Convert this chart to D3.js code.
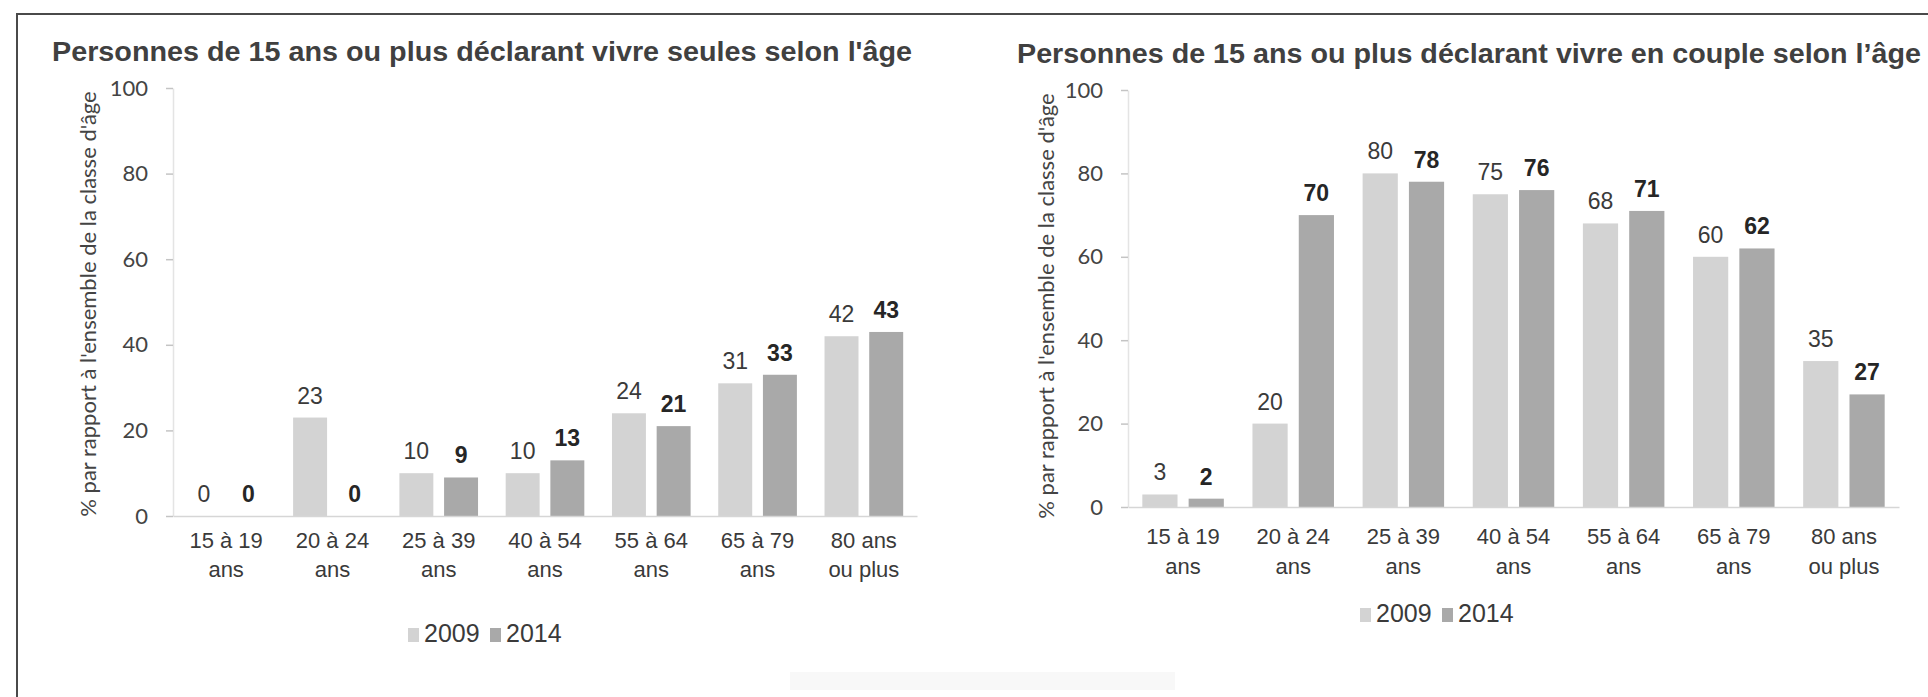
<!DOCTYPE html>
<html>
<head>
<meta charset="utf-8">
<script src="https://cdn.jsdelivr.net/npm/d3@7"></script>
<style>
  body { margin: 0; background: #fff; }
</style>
</head>
<body>
<div id="chart"></div>
<script>
// age classes (two lines per tick label)
const ageGroups = [
    ["15 à 19", "ans"], ["20 à 24", "ans"], ["25 à 39", "ans"], ["40 à 54", "ans"],
    ["55 à 64", "ans"], ["65 à 79", "ans"], ["80 ans", "ou plus"]
];
const years = ["2009", "2014"];

// vivre seules
const seules2009 = [0, 23, 10, 10, 24, 31, 42];
const seules2014 = [0, 0, 9, 13, 21, 33, 43];

// vivre en couple
const couple2009 = [3, 20, 80, 75, 68, 60, 35];
const couple2014 = [2, 70, 78, 76, 71, 62, 27];

const yTicks = [0, 20, 40, 60, 80, 100];
const barColors = ["#d3d3d3", "#a9a9a9"];

const W = 1928, H = 697;
const svg = d3.select("#chart").append("svg")
    .attr("width", W)
    .attr("height", H);

// scanned frame: left and top edges only
svg.append("path")
    .attr("d", `M17,${H} V14 H${W}`)
    .attr("fill", "none")
    .attr("stroke", "#4a4a4a")
    .attr("stroke-width", 2);

function drawChart(o) {
    const keys = ageGroups.map(d => d.join(" "));
    const rows = ageGroups.map((g, i) => ({ key: keys[i], lines: g, values: [o.v2009[i], o.v2014[i]] }));

    const x0 = d3.scaleBand().domain(keys).range([o.left, o.right]);
    const bw = x0.bandwidth();
    const x1 = d3.scaleBand().domain(years).range([bw * 0.13, bw * 0.87]).paddingInner(0.24);
    const y = d3.scaleLinear().domain([0, 100]).range([o.bottom, o.top]);

    // title
    svg.append("text")
        .attr("x", o.titleX)
        .attr("y", o.titleY)
        .attr("textLength", o.titleW)
        .attr("lengthAdjust", "spacingAndGlyphs")
        .text(o.title)
        .attr("font-family", "'Liberation Sans', Arial, sans-serif")
        .attr("font-size", "27px")
        .attr("font-weight", "bold")
        .attr("fill", "#404040");

    // y axis
    const yAxis = svg.append("g")
        .attr("transform", `translate(${o.left},0)`)
        .call(d3.axisLeft(y).tickValues(yTicks).tickSize(7).tickSizeOuter(0).tickPadding(18));
    yAxis.select(".domain").attr("stroke", "#e4e4e4").attr("stroke-width", 1.5);
    yAxis.selectAll(".tick line").attr("stroke", "#c4c4c4").attr("stroke-width", 1.5);
    yAxis.selectAll(".tick text")
        .attr("font-family", "Lato, 'Open Sans', sans-serif")
        .attr("font-size", "22px")
        .attr("fill", "#444");

    svg.append("text")
        .attr("transform", `translate(${o.yTitleX},${o.yTitleCy}) rotate(-90)`)
        .attr("text-anchor", "middle")
        .text("% par rapport à l'ensemble de la classe d'âge")
        .attr("font-family", "Lato, 'Open Sans', sans-serif")
        .attr("font-size", "22px")
        .attr("fill", "#444");

    // bars
    const groups = svg.selectAll(null)
        .data(rows)
        .enter()
        .append("g")
        .attr("transform", d => `translate(${x0(d.key)},0)`);

    groups.selectAll("rect")
        .data(d => d.values.map((v, i) => ({ year: years[i], v, i })))
        .enter()
        .append("rect")
        .attr("x", d => x1(d.year))
        .attr("y", d => y(d.v))
        .attr("width", x1.bandwidth())
        .attr("height", d => y(0) - y(d.v))
        .attr("fill", d => barColors[d.i]);

    groups.selectAll("text")
        .data(d => d.values.map((v, i) => ({ year: years[i], v, i })))
        .enter()
        .append("text")
        .attr("x", d => x1(d.year) + x1.bandwidth() / 2)
        .attr("y", d => y(d.v) - 14)
        .attr("text-anchor", "middle")
        .text(d => d.v)
        .attr("font-family", "'Liberation Sans', Arial, sans-serif")
        .attr("font-size", "23px")
        .attr("font-weight", d => d.i === 1 ? "bold" : "normal")
        .attr("fill", d => d.i === 1 ? "#262626" : "#3a3a3a");

    // x axis
    const xAxis = svg.append("g")
        .attr("transform", `translate(0,${o.bottom})`)
        .call(d3.axisBottom(x0).tickSize(0).tickFormat(""));
    xAxis.select(".domain").attr("stroke", "#d6d6d6").attr("stroke-width", 1.5);

    const xl = svg.selectAll(null)
        .data(rows)
        .enter()
        .append("text")
        .attr("text-anchor", "middle")
        .attr("font-family", "'Liberation Sans', Arial, sans-serif")
        .attr("font-size", "22px")
        .attr("fill", "#3a3a3a");
    xl.append("tspan")
        .attr("x", d => x0(d.key) + bw / 2)
        .attr("y", o.bottom + o.lab1)
        .text(d => d.lines[0]);
    xl.append("tspan")
        .attr("x", d => x0(d.key) + bw / 2)
        .attr("y", o.bottom + o.lab2)
        .text(d => d.lines[1]);

    // legend
    const legend = svg.append("g")
        .attr("transform", `translate(${o.legendX},${o.legendY})`);
    years.forEach((yr, i) => {
        legend.append("rect")
            .attr("x", i * 82)
            .attr("y", -14)
            .attr("width", 11)
            .attr("height", 14)
            .attr("fill", barColors[i]);
        legend.append("text")
            .attr("x", i * 82 + 16)
            .attr("y", 0)
            .text(yr)
            .attr("font-family", "'Liberation Sans', Arial, sans-serif")
            .attr("font-size", "25px")
            .attr("fill", "#3a3a3a");
    });
}

drawChart({
    title: "Personnes de 15 ans ou plus déclarant vivre seules selon l'âge",
    v2009: seules2009, v2014: seules2014,
    left: 173, right: 917, top: 88, bottom: 516,
    titleX: 52, titleY: 61, titleW: 860,
    yTitleX: 96, yTitleCy: 304,
    lab1: 32, lab2: 61,
    legendX: 408, legendY: 642
});

drawChart({
    title: "Personnes de 15 ans ou plus déclarant vivre en couple selon l’âge",
    v2009: couple2009, v2014: couple2014,
    left: 1128, right: 1899, top: 90, bottom: 507,
    titleX: 1017, titleY: 63, titleW: 904,
    yTitleX: 1054, yTitleCy: 306,
    lab1: 37, lab2: 67,
    legendX: 1360, legendY: 622
});

// faded, unreadable footer smudge from the scan
svg.append("rect")
    .attr("x", 790).attr("y", 672)
    .attr("width", 385).attr("height", 18)
    .attr("fill", "#f8f8f8");
</script>
</body>
</html>
